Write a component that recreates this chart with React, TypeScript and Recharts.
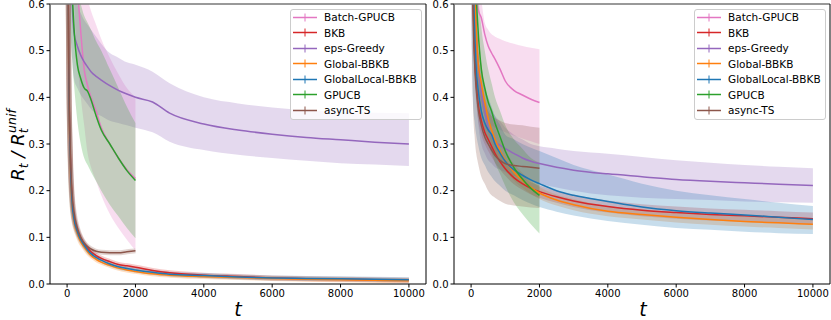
import { Area, ComposedChart, Line, XAxis, YAxis } from "recharts";

// sample times shared by every curve (curves that stop at t=2000 use the first 17)
const T = [0, 25, 50, 100, 150, 200, 300, 400, 500, 600, 700, 850, 1000, 1250, 1500, 1750, 2000, 2500, 3000, 4000, 5000, 6000, 7000, 8000, 9000, 10000];
const X_TICKS = [0, 2000, 4000, 6000, 8000, 10000];
const Y_TICKS = [0, 0.1, 0.2, 0.3, 0.4, 0.5, 0.6];
const NAMES = ["Batch-GPUCB", "BKB", "eps-Greedy", "Global-BBKB", "GlobalLocal-BBKB", "GPUCB", "async-TS"];
const COLORS = ["#e377c2", "#d62728", "#9467bd", "#ff7f0e", "#1f77b4", "#2ca02c", "#8c564b"];

// ---- left panel ----
const leftBatchMean = [1.0, 0.99, 0.97, 0.92, 0.85, 0.78, 0.64, 0.54, 0.46, 0.425, 0.4, 0.37, 0.335, 0.3, 0.27, 0.245, 0.226];
const leftBatchLow = [0.95, 0.93, 0.9, 0.82, 0.72, 0.62, 0.48, 0.4, 0.34, 0.28, 0.25, 0.22, 0.19, 0.15, 0.12, 0.095, 0.072];
const leftBatchHigh = [1.0, 1.0, 1.0, 1.0, 1.0, 0.95, 0.8, 0.7, 0.64, 0.61, 0.585, 0.555, 0.525, 0.485, 0.45, 0.42, 0.4];
const leftBkbMean = [1.0, 0.7, 0.46, 0.26, 0.18, 0.145, 0.115, 0.098, 0.086, 0.077, 0.069, 0.061, 0.055, 0.048, 0.042, 0.039, 0.036, 0.029, 0.024, 0.019, 0.016, 0.013, 0.011, 0.01, 0.009, 0.008];
const leftEpsMean = [1.0, 0.95, 0.85, 0.7, 0.6, 0.54, 0.51, 0.49, 0.476, 0.465, 0.455, 0.445, 0.437, 0.425, 0.415, 0.407, 0.4, 0.39, 0.366, 0.343, 0.33, 0.321, 0.314, 0.309, 0.304, 0.3];
const leftEpsLow = [0.9, 0.8, 0.7, 0.55, 0.48, 0.44, 0.42, 0.405, 0.395, 0.385, 0.375, 0.365, 0.36, 0.35, 0.345, 0.34, 0.335, 0.325, 0.305, 0.287, 0.277, 0.27, 0.264, 0.259, 0.256, 0.253];
const leftEpsHigh = [1.0, 1.0, 1.0, 0.85, 0.7, 0.65, 0.6, 0.58, 0.565, 0.555, 0.545, 0.53, 0.515, 0.495, 0.485, 0.475, 0.47, 0.455, 0.43, 0.4, 0.387, 0.378, 0.372, 0.369, 0.367, 0.366];
const leftGlobalMean = [1.0, 0.68, 0.44, 0.24, 0.165, 0.135, 0.108, 0.09, 0.079, 0.069, 0.061, 0.053, 0.047, 0.04, 0.034, 0.03, 0.027, 0.022, 0.019, 0.016, 0.014, 0.012, 0.01, 0.009, 0.008, 0.007];
const leftLocalMean = [1.0, 0.69, 0.45, 0.25, 0.17, 0.14, 0.112, 0.095, 0.083, 0.073, 0.065, 0.057, 0.051, 0.043, 0.037, 0.033, 0.03, 0.025, 0.021, 0.018, 0.015, 0.013, 0.012, 0.011, 0.01, 0.009];
const leftGpucbMean = [1.0, 0.95, 0.85, 0.7, 0.62, 0.55, 0.47, 0.44, 0.42, 0.413, 0.395, 0.36, 0.33, 0.3, 0.27, 0.243, 0.222];
const leftGpucbLow = [0.9, 0.8, 0.7, 0.55, 0.48, 0.43, 0.35, 0.3, 0.27, 0.255, 0.24, 0.22, 0.2, 0.17, 0.145, 0.12, 0.098];
const leftGpucbHigh = [1.0, 1.0, 1.0, 0.9, 0.8, 0.72, 0.63, 0.6, 0.575, 0.56, 0.545, 0.52, 0.5, 0.46, 0.42, 0.38, 0.345];
const leftTsMean = [1.0, 0.72, 0.47, 0.27, 0.19, 0.155, 0.12, 0.1, 0.088, 0.08, 0.075, 0.07, 0.068, 0.067, 0.067, 0.069, 0.071];

// ---- right panel ----
const rightBatchMean = [1.0, 0.9, 0.8, 0.68, 0.62, 0.59, 0.57, 0.535, 0.51, 0.495, 0.482, 0.46, 0.435, 0.415, 0.405, 0.396, 0.389];
const rightBatchLow = [0.28, 0.7, 0.6, 0.5, 0.44, 0.41, 0.38, 0.36, 0.35, 0.34, 0.335, 0.33, 0.325, 0.318, 0.312, 0.306, 0.3];
const rightBatchHigh = [1.0, 1.0, 1.0, 1.0, 0.8, 0.68, 0.61, 0.56, 0.545, 0.535, 0.53, 0.525, 0.52, 0.515, 0.51, 0.506, 0.503];
const rightBkbMean = [1.0, 0.8, 0.65, 0.5, 0.43, 0.39, 0.35, 0.325, 0.31, 0.295, 0.28, 0.262, 0.247, 0.228, 0.215, 0.205, 0.198, 0.187, 0.178, 0.166, 0.158, 0.153, 0.149, 0.146, 0.143, 0.14];
const rightBkbLow = [0.9, 0.7, 0.58, 0.45, 0.39, 0.355, 0.32, 0.3, 0.285, 0.272, 0.26, 0.245, 0.232, 0.214, 0.202, 0.192, 0.185, 0.174, 0.165, 0.153, 0.145, 0.14, 0.136, 0.133, 0.13, 0.127];
const rightBkbHigh = [1.0, 0.9, 0.72, 0.55, 0.47, 0.425, 0.38, 0.35, 0.335, 0.318, 0.3, 0.28, 0.262, 0.242, 0.228, 0.218, 0.211, 0.2, 0.191, 0.179, 0.171, 0.166, 0.162, 0.159, 0.156, 0.153];
const rightEpsMean = [1.0, 0.9, 0.8, 0.65, 0.55, 0.48, 0.41, 0.37, 0.335, 0.318, 0.305, 0.297, 0.29, 0.28, 0.27, 0.263, 0.258, 0.25, 0.244, 0.236, 0.23, 0.224, 0.22, 0.217, 0.214, 0.211];
const rightEpsLow = [0.8, 0.7, 0.6, 0.45, 0.4, 0.35, 0.3, 0.28, 0.265, 0.258, 0.25, 0.245, 0.24, 0.232, 0.225, 0.22, 0.215, 0.207, 0.2, 0.19, 0.185, 0.182, 0.18, 0.177, 0.175, 0.174];
const rightEpsHigh = [1.0, 1.0, 1.0, 1.0, 0.6, 0.5, 0.43, 0.4, 0.38, 0.37, 0.36, 0.348, 0.335, 0.32, 0.31, 0.3, 0.295, 0.29, 0.285, 0.279, 0.272, 0.265, 0.26, 0.255, 0.251, 0.248];
const rightGlobalMean = [1.0, 0.95, 0.85, 0.65, 0.55, 0.48, 0.43, 0.39, 0.355, 0.33, 0.31, 0.285, 0.265, 0.24, 0.222, 0.207, 0.195, 0.18, 0.17, 0.156, 0.149, 0.143, 0.138, 0.134, 0.131, 0.128];
const rightGlobalLow = [0.9, 0.85, 0.75, 0.58, 0.5, 0.44, 0.39, 0.355, 0.325, 0.302, 0.284, 0.262, 0.244, 0.222, 0.206, 0.193, 0.182, 0.168, 0.158, 0.145, 0.138, 0.132, 0.127, 0.123, 0.12, 0.117];
const rightGlobalHigh = [1.0, 1.0, 0.95, 0.72, 0.6, 0.52, 0.47, 0.425, 0.385, 0.358, 0.336, 0.308, 0.286, 0.258, 0.238, 0.221, 0.208, 0.192, 0.182, 0.167, 0.16, 0.154, 0.149, 0.145, 0.142, 0.139];
const rightLocalMean = [1.0, 0.85, 0.7, 0.55, 0.46, 0.42, 0.37, 0.345, 0.33, 0.32, 0.3, 0.28, 0.263, 0.245, 0.233, 0.223, 0.215, 0.2, 0.19, 0.177, 0.165, 0.157, 0.152, 0.148, 0.143, 0.138];
const rightLocalLow = [0.7, 0.5, 0.4, 0.35, 0.32, 0.3, 0.27, 0.255, 0.24, 0.23, 0.22, 0.21, 0.2, 0.19, 0.18, 0.172, 0.165, 0.155, 0.147, 0.135, 0.127, 0.12, 0.116, 0.112, 0.109, 0.107];
const rightLocalHigh = [1.0, 1.0, 0.9, 0.6, 0.53, 0.5, 0.45, 0.42, 0.4, 0.38, 0.36, 0.34, 0.32, 0.31, 0.3, 0.292, 0.285, 0.27, 0.255, 0.235, 0.215, 0.2, 0.19, 0.182, 0.174, 0.167];
const rightGpucbMean = [1.0, 0.95, 0.9, 0.75, 0.62, 0.55, 0.46, 0.42, 0.39, 0.37, 0.345, 0.315, 0.285, 0.25, 0.225, 0.205, 0.19];
const rightGpucbLow = [0.8, 0.7, 0.6, 0.5, 0.42, 0.38, 0.35, 0.32, 0.3, 0.28, 0.26, 0.235, 0.21, 0.175, 0.15, 0.128, 0.108];
const rightGpucbHigh = [1.0, 1.0, 1.0, 1.0, 0.8, 0.65, 0.55, 0.5, 0.46, 0.43, 0.4, 0.37, 0.34, 0.31, 0.29, 0.27, 0.26];
const rightTsMean = [1.0, 0.8, 0.62, 0.48, 0.42, 0.38, 0.34, 0.315, 0.3, 0.287, 0.275, 0.265, 0.258, 0.254, 0.252, 0.25, 0.248];
const rightTsLow = [0.7, 0.5, 0.4, 0.32, 0.28, 0.26, 0.23, 0.215, 0.2, 0.19, 0.185, 0.178, 0.172, 0.168, 0.166, 0.164, 0.163];
const rightTsHigh = [1.0, 1.0, 1.0, 1.0, 0.6, 0.5, 0.42, 0.39, 0.37, 0.36, 0.355, 0.35, 0.345, 0.342, 0.34, 0.337, 0.335];

type Series = { mean: number[]; low?: number[]; high?: number[] };

// order follows the legend
const leftSeries: Series[] = [
  { mean: leftBatchMean, low: leftBatchLow, high: leftBatchHigh },
  { mean: leftBkbMean },
  { mean: leftEpsMean, low: leftEpsLow, high: leftEpsHigh },
  { mean: leftGlobalMean },
  { mean: leftLocalMean },
  { mean: leftGpucbMean, low: leftGpucbLow, high: leftGpucbHigh },
  { mean: leftTsMean },
];

const rightSeries: Series[] = [
  { mean: rightBatchMean, low: rightBatchLow, high: rightBatchHigh },
  { mean: rightBkbMean, low: rightBkbLow, high: rightBkbHigh },
  { mean: rightEpsMean, low: rightEpsLow, high: rightEpsHigh },
  { mean: rightGlobalMean, low: rightGlobalLow, high: rightGlobalHigh },
  { mean: rightLocalMean, low: rightLocalLow, high: rightLocalHigh },
  { mean: rightGpucbMean, low: rightGpucbLow, high: rightGpucbHigh },
  { mean: rightTsMean, low: rightTsLow, high: rightTsHigh },
];

function buildRows(series: Series[]) {
  return T.map((t, i) => {
    const row: Record<string, any> = { t };
    series.forEach((s, k) => {
      row["m" + k] = s.mean[i] ?? null;
      row["b" + k] = s.low && s.low[i] != null ? [s.low[i], s.high![i]] : null;
    });
    return row;
  });
}

const FONT = "DejaVu Sans";
const tick = { fill: "#000", fontSize: 10, fontFamily: FONT };

function Panel({ series, left }: { series: Series[]; left: number }) {
  const rows = buildRows(series);
  return (
    <div style={{ position: "absolute", left, top: 0 }}>
      <ComposedChart width={431} height={320} data={rows} margin={{ top: 4, right: 5, bottom: 16, left: 20 }}>
        <XAxis
          dataKey="t"
          type="number"
          domain={[-500, 10500]}
          ticks={X_TICKS}
          interval={0}
          height={20}
          tick={tick}
          tickSize={3.5}
          axisLine={{ stroke: "#000" }}
          tickLine={{ stroke: "#000" }}
        />
        <YAxis
          type="number"
          domain={[0, 0.6]}
          ticks={Y_TICKS}
          allowDataOverflow
          interval={0}
          width={30}
          tick={tick}
          tickSize={3.5}
          tickFormatter={(v) => Number(v).toFixed(1)}
          axisLine={{ stroke: "#000" }}
          tickLine={{ stroke: "#000" }}
        />
        {series.map((s, k) =>
          s.low ? (
            <Area
              key={"b" + k}
              dataKey={"b" + k}
              type="monotone"
              stroke="none"
              fill={COLORS[k]}
              fillOpacity={0.25}
              isAnimationActive={false}
              dot={false}
              activeDot={false}
            />
          ) : (
            <Line
              key={"h" + k}
              dataKey={"m" + k}
              type="monotone"
              stroke={COLORS[k]}
              strokeOpacity={0.25}
              strokeWidth={5}
              dot={false}
              activeDot={false}
              isAnimationActive={false}
            />
          )
        )}
        {series.map((s, k) => (
          <Line
            key={"m" + k}
            dataKey={"m" + k}
            type="monotone"
            stroke={COLORS[k]}
            strokeWidth={1.5}
            dot={false}
            activeDot={false}
            isAnimationActive={false}
          />
        ))}
      </ComposedChart>
    </div>
  );
}

function LegendBox({ left }: { left: number }) {
  return (
    <div
      style={{
        position: "absolute",
        left,
        top: 9,
        width: 132,
        height: 111,
        boxSizing: "border-box",
        background: "rgba(255,255,255,0.8)",
        border: "1px solid #cccccc",
        borderRadius: 3,
        fontFamily: FONT,
        fontSize: 10.5,
        color: "#000",
      }}
    >
      {NAMES.map((n, i) => (
        <div
          key={n}
          style={{ position: "absolute", left: 0, top: -0.5 + i * 15.5, height: 15, display: "flex", alignItems: "center", whiteSpace: "nowrap" }}
        >
          <svg width={30} height={15}>
            <line x1={2} x2={26} y1={7.5} y2={7.5} stroke={COLORS[i]} strokeWidth={1.5} />
            <line x1={14} x2={14} y1={3.5} y2={11.5} stroke={COLORS[i]} strokeWidth={1} />
          </svg>
          <span style={{ marginLeft: 3 }}>{n}</span>
        </div>
      ))}
    </div>
  );
}

export default function App() {
  return (
    <div style={{ position: "absolute", left: 0, top: 0, width: 831, height: 320, background: "#fff", overflow: "hidden" }}>
      <Panel series={leftSeries} left={0} />
      <Panel series={rightSeries} left={404} />
      <svg width={831} height={320} style={{ position: "absolute", left: 0, top: 0, pointerEvents: "none" }}>
        <line x1={50} x2={426} y1={4} y2={4} stroke="#777" strokeWidth={1.5} />
        <line x1={426} x2={426} y1={4} y2={284} stroke="#000" strokeWidth={1} />
        <line x1={454} x2={830} y1={4} y2={4} stroke="#777" strokeWidth={1.5} />
        <line x1={830} x2={830} y1={4} y2={284} stroke="#000" strokeWidth={1} />
        <text x={238} y={316} textAnchor="middle" fontFamily={FONT} fontStyle="italic" fontSize={19}>t</text>
        <text x={643} y={316} textAnchor="middle" fontFamily={FONT} fontStyle="italic" fontSize={19}>t</text>
        <text transform="translate(24,145) rotate(-90)" textAnchor="middle" fontFamily={FONT} fontStyle="italic" fontSize={18}>
          R<tspan dy={4} fontSize={12.5}>t</tspan>
          <tspan dy={-4} fontSize={18}>{" / R"}</tspan>
          <tspan dy={4} fontSize={12.5}>t</tspan>
          <tspan dx={-4.5} dy={-12} fontSize={12.5}>unif</tspan>
        </text>
      </svg>
      <LegendBox left={290} />
      <LegendBox left={694} />
    </div>
  );
}
